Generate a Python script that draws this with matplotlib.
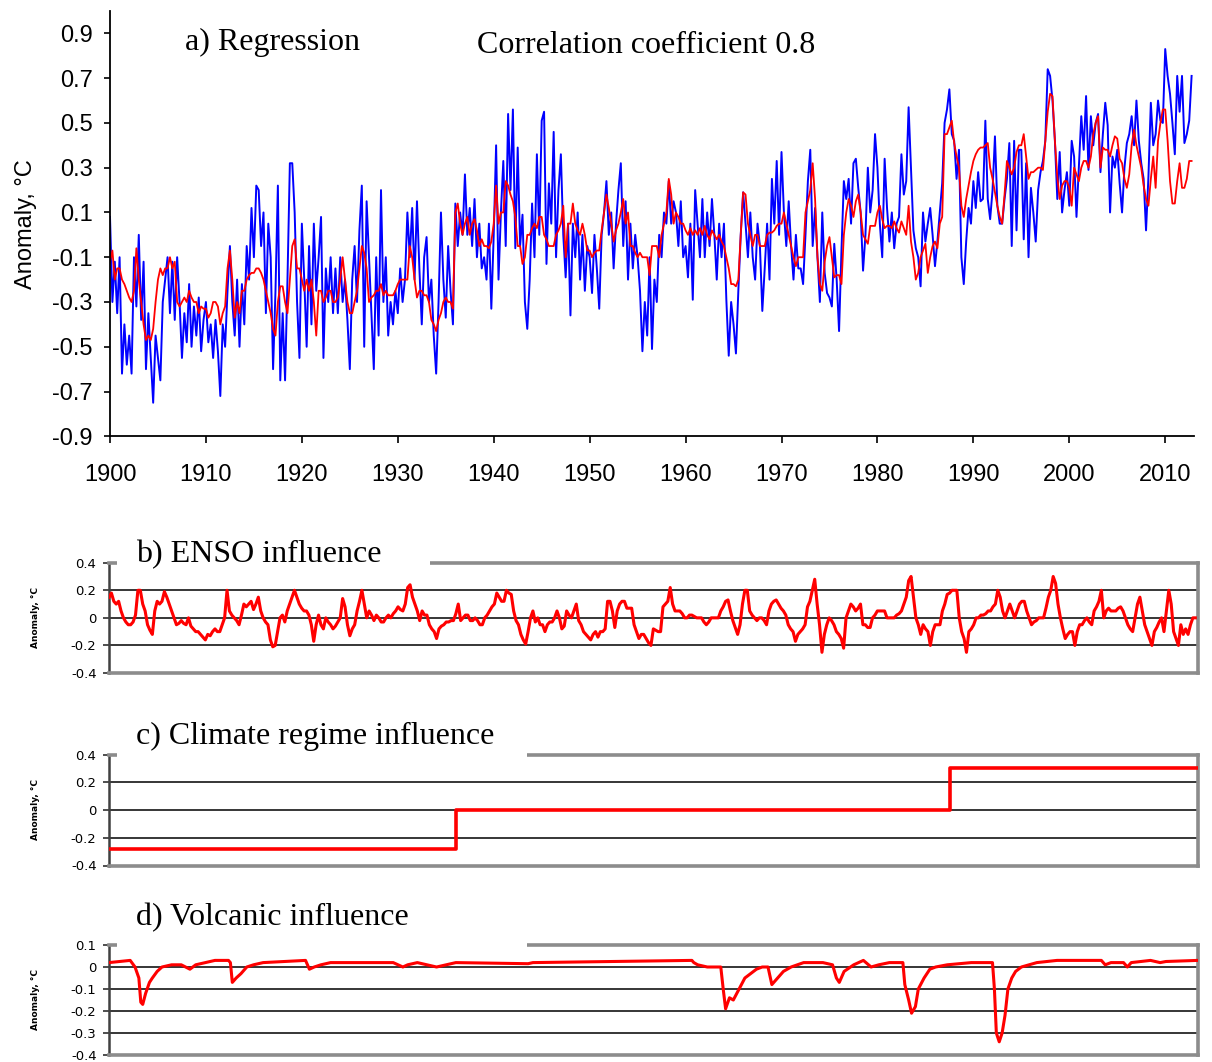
import numpy as np
import matplotlib
matplotlib.use("Agg")
import matplotlib.pyplot as plt
from matplotlib.patches import Rectangle

# quarterly values (Jan, Apr, Jul, Oct), one row per year 1900-2012
observed = [
    0.08, -0.30, -0.12, -0.35,
    -0.10, -0.62, -0.40, -0.58,
    -0.45, -0.62, -0.10, -0.32,
    0.00, -0.38, -0.12, -0.60,
    -0.35, -0.55, -0.75, -0.45,
    -0.55, -0.65, -0.30, -0.20,
    -0.10, -0.35, -0.12, -0.38,
    -0.10, -0.30, -0.55, -0.35,
    -0.48, -0.22, -0.50, -0.32,
    -0.45, -0.28, -0.52, -0.38,
    -0.30, -0.48, -0.40, -0.55,
    -0.38, -0.52, -0.72, -0.40,
    -0.50, -0.25, -0.05, -0.30,
    -0.45, -0.20, -0.50, -0.22,
    -0.40, -0.05, -0.20, 0.12,
    -0.10, 0.22, 0.20, -0.05,
    0.10, -0.35, 0.05, -0.10,
    -0.60, -0.25, 0.22, -0.65,
    -0.35, -0.65, -0.20, 0.32,
    0.32, 0.10, -0.30, -0.55,
    0.05, -0.20, -0.50, -0.05,
    -0.40, 0.05, -0.25, -0.10,
    0.08, -0.55, -0.15, -0.30,
    -0.10, -0.35, -0.15, -0.35,
    -0.10, -0.30, -0.20, -0.38,
    -0.60, -0.20, -0.05, -0.30,
    0.02, 0.22, -0.50, 0.15,
    -0.10, -0.35, -0.60, -0.10,
    -0.45, 0.20, -0.30, -0.10,
    -0.45, -0.30, -0.40, -0.25,
    -0.35, -0.15, -0.30, -0.20,
    0.10, -0.10, 0.12, -0.20,
    0.15, -0.15, -0.40, -0.10,
    -0.01, -0.30, -0.20, -0.45,
    -0.62, -0.30, 0.10, -0.20,
    -0.37, -0.05, -0.25, -0.40,
    0.14, -0.05, 0.10, 0.00,
    0.27, 0.00, 0.12, -0.05,
    0.16, -0.10, 0.05, -0.15,
    -0.10, -0.20, 0.05, -0.33,
    0.00, 0.40, -0.20, 0.10,
    0.33, -0.05, 0.54, 0.20,
    0.56, -0.06, 0.39, -0.05,
    0.09, -0.30, -0.42, -0.20,
    0.14, -0.10, 0.36, 0.00,
    0.51, 0.55, -0.13, 0.23,
    0.05, 0.46, -0.10, 0.20,
    0.36, 0.00, -0.19, 0.05,
    -0.36, 0.05, -0.10, 0.10,
    -0.20, 0.00, -0.25, -0.05,
    -0.10, -0.26, 0.00, -0.15,
    -0.33, 0.00, 0.10, 0.24,
    0.00, 0.10, -0.15, 0.05,
    0.20, 0.32, -0.05, 0.15,
    -0.20, 0.05, -0.15, 0.00,
    -0.10, -0.25, -0.52, -0.30,
    -0.45, -0.10, -0.51, -0.20,
    -0.30, 0.00, -0.10, 0.10,
    0.05, 0.24, 0.05, 0.15,
    0.10, -0.05, 0.15, -0.10,
    -0.05, -0.19, 0.05, -0.29,
    0.20, 0.05, -0.10, 0.16,
    -0.10, 0.10, -0.05, 0.16,
    0.00, -0.20, 0.05, -0.10,
    0.05, -0.29, -0.54, -0.30,
    -0.40, -0.53, -0.25, 0.00,
    0.19, 0.05, -0.10, 0.10,
    -0.10, -0.20, 0.05, -0.05,
    -0.34, -0.15, 0.05, -0.20,
    0.25, 0.05, 0.33, 0.00,
    0.37, 0.10, -0.05, 0.15,
    -0.05, -0.20, 0.00, -0.15,
    -0.15, -0.22, 0.00, 0.24,
    0.38, -0.05, 0.12, -0.10,
    -0.30, 0.10, -0.17, -0.26,
    -0.28, -0.32, -0.04, -0.20,
    -0.43, -0.07, 0.24, 0.16,
    0.25, 0.05, 0.32, 0.34,
    0.21, 0.10, -0.16, 0.00,
    0.30, 0.10, 0.20, 0.45,
    0.30, 0.05, -0.10, 0.34,
    0.12, -0.03, 0.10, -0.06,
    0.05, 0.08, 0.36, 0.18,
    0.24, 0.57, 0.30, 0.02,
    -0.06, -0.10, -0.23, 0.10,
    -0.03, 0.05, 0.12, 0.00,
    -0.14, -0.03, 0.10, 0.23,
    0.50, 0.56, 0.65, 0.45,
    0.42, 0.25, 0.38, -0.10,
    -0.22, -0.03, 0.12, 0.05,
    0.24, 0.12, 0.28, 0.15,
    0.16, 0.51, 0.16, 0.07,
    0.20, 0.44, 0.13, 0.05,
    0.05, 0.16, 0.25, 0.41,
    -0.05, 0.42, 0.02, 0.38,
    0.38, -0.02, 0.32, -0.10,
    0.21, 0.10, -0.03, 0.20,
    0.28, 0.33, 0.42, 0.74,
    0.71, 0.60, 0.42, 0.16,
    0.37, 0.10, 0.20, 0.28,
    0.13, 0.42, 0.35, 0.08,
    0.30, 0.53, 0.38, 0.62,
    0.29, 0.53, 0.40, 0.50,
    0.54, 0.28, 0.45, 0.59,
    0.49, 0.10, 0.35, 0.30,
    0.38, 0.23, 0.10, 0.30,
    0.41, 0.45, 0.53, 0.40,
    0.60, 0.42, 0.32, 0.25,
    0.02, 0.26, 0.59, 0.40,
    0.45, 0.60, 0.51, 0.50,
    0.83, 0.71, 0.63, 0.50,
    0.36, 0.71, 0.55, 0.71,
    0.41, 0.45, 0.51, 0.71,
]

regression = [
    -0.12, -0.07, -0.20, -0.15,
    -0.15, -0.20, -0.22, -0.25,
    -0.28, -0.30, -0.25, -0.06,
    -0.20, -0.30, -0.40, -0.47,
    -0.45, -0.47, -0.42, -0.30,
    -0.20, -0.15, -0.18, -0.15,
    -0.15, -0.10, -0.15, -0.12,
    -0.30, -0.32, -0.30, -0.28,
    -0.30, -0.25, -0.28, -0.30,
    -0.30, -0.35, -0.32, -0.33,
    -0.33, -0.37, -0.35, -0.30,
    -0.30, -0.32, -0.40, -0.35,
    -0.32, -0.15, -0.07, -0.20,
    -0.37, -0.30, -0.35, -0.25,
    -0.25, -0.20, -0.18, -0.17,
    -0.17, -0.15, -0.15, -0.17,
    -0.20, -0.25, -0.30, -0.35,
    -0.42, -0.45, -0.30, -0.23,
    -0.23, -0.30, -0.35, -0.20,
    -0.05, -0.02, -0.15, -0.15,
    -0.20, -0.25, -0.20, -0.25,
    -0.20, -0.30, -0.45, -0.25,
    -0.25, -0.30, -0.28, -0.25,
    -0.25, -0.30, -0.30, -0.28,
    -0.20, -0.10, -0.20, -0.30,
    -0.35, -0.35, -0.30, -0.25,
    -0.15, -0.05, -0.08, -0.15,
    -0.30, -0.28, -0.27, -0.25,
    -0.25, -0.22, -0.27, -0.25,
    -0.27, -0.27, -0.27, -0.25,
    -0.22, -0.20, -0.20, -0.20,
    -0.20, -0.05, -0.10, -0.20,
    -0.28, -0.25, -0.25, -0.27,
    -0.27, -0.30, -0.38, -0.40,
    -0.43, -0.38, -0.35, -0.30,
    -0.28, -0.30, -0.30, -0.33,
    0.10, 0.14, 0.05, 0.00,
    0.05, 0.08, 0.00, 0.05,
    0.07, 0.02, -0.05, -0.02,
    -0.05, -0.05, -0.06, -0.03,
    0.05, 0.22, 0.05, 0.10,
    0.10, 0.24, 0.22, 0.18,
    0.15, 0.08, -0.05, -0.05,
    -0.13, -0.10, 0.00, 0.00,
    0.03, 0.05, 0.03, 0.08,
    0.08, 0.00, -0.02, -0.05,
    -0.05, -0.05, 0.00, 0.02,
    0.05, 0.13, -0.10, 0.05,
    0.05, 0.14, 0.05, 0.02,
    0.00, 0.05, 0.00, -0.07,
    -0.07, -0.10, -0.08, -0.07,
    -0.07, 0.02, 0.10, 0.18,
    0.12, 0.05, -0.03, 0.02,
    0.05, 0.10, 0.16, 0.05,
    0.10, -0.05, -0.05, -0.08,
    -0.10, -0.08, -0.10, -0.10,
    -0.10, -0.18, -0.05, -0.05,
    -0.05, -0.10, 0.00, 0.05,
    0.10, 0.25, 0.18, 0.05,
    0.10, 0.08, 0.05, 0.05,
    0.02, 0.00, 0.03, 0.00,
    0.02, 0.00, 0.03, 0.00,
    0.04, 0.00, -0.02, 0.02,
    0.00, -0.02, 0.00, -0.03,
    -0.05, -0.10, -0.15, -0.22,
    -0.22, -0.23, -0.20, 0.00,
    0.19, 0.18, 0.05, 0.00,
    -0.05, 0.00, 0.00, -0.05,
    -0.05, -0.05, 0.00, 0.01,
    0.01, 0.02, 0.04, 0.05,
    0.05, 0.10, 0.05, 0.00,
    -0.05, -0.10, -0.14, -0.10,
    -0.10, -0.10, 0.10, 0.15,
    0.20, 0.32, 0.16, -0.10,
    -0.22, -0.25, -0.12, -0.05,
    -0.01, -0.10, -0.19, -0.18,
    -0.18, -0.22, 0.00, 0.10,
    0.16, 0.13, 0.08, 0.15,
    0.18, 0.10, 0.00, -0.02,
    -0.04, 0.04, 0.04, 0.04,
    0.10, 0.13, 0.07, 0.03,
    0.04, 0.04, 0.03, 0.06,
    0.03, 0.01, 0.06, 0.03,
    0.00, 0.13, -0.03, -0.10,
    -0.20, -0.17, -0.10, -0.07,
    -0.04, -0.17, -0.10, -0.05,
    -0.03, -0.06, 0.05, 0.08,
    0.45, 0.45, 0.48, 0.51,
    0.41, 0.35, 0.30, 0.13,
    0.08, 0.16, 0.22, 0.28,
    0.33, 0.36, 0.38, 0.39,
    0.39, 0.40, 0.41, 0.30,
    0.25, 0.19, 0.13, 0.08,
    0.05, 0.18, 0.33, 0.30,
    0.27, 0.30, 0.37, 0.40,
    0.40, 0.45, 0.35, 0.25,
    0.28, 0.28, 0.29, 0.30,
    0.30, 0.29, 0.42, 0.55,
    0.63, 0.62, 0.42, 0.26,
    0.16, 0.22, 0.24, 0.24,
    0.21, 0.13, 0.30, 0.27,
    0.24, 0.30, 0.33, 0.33,
    0.30, 0.35, 0.45, 0.50,
    0.53, 0.30, 0.39, 0.38,
    0.38, 0.35, 0.40, 0.44,
    0.43, 0.34, 0.32, 0.25,
    0.21, 0.27, 0.40, 0.47,
    0.40, 0.35, 0.30, 0.22,
    0.16, 0.13, 0.25, 0.35,
    0.21, 0.42, 0.50, 0.56,
    0.56, 0.42, 0.24, 0.14,
    0.14, 0.24, 0.32, 0.21,
    0.21, 0.25, 0.33, 0.33,
]

enso = [
    0.15, 0.18, 0.12, 0.10,
    0.12, 0.05, 0.00, -0.03,
    -0.05, -0.05, -0.03, 0.02,
    0.20, 0.20, 0.10, 0.05,
    -0.05, -0.09, -0.12, 0.05,
    0.12, 0.10, 0.12, 0.19,
    0.15, 0.10, 0.05, 0.00,
    -0.05, -0.04, -0.02, -0.04,
    -0.05, 0.00, -0.06, -0.08,
    -0.10, -0.10, -0.12, -0.14,
    -0.16, -0.12, -0.13, -0.10,
    -0.08, -0.10, -0.10, -0.05,
    0.00, 0.20, 0.05, 0.02,
    0.00, -0.02, -0.05, 0.02,
    0.10, 0.08, 0.10, 0.12,
    0.06, 0.10, 0.15, 0.05,
    0.00, -0.03, -0.05, -0.16,
    -0.21, -0.20, -0.10, 0.00,
    0.02, -0.03, 0.05, 0.10,
    0.15, 0.20, 0.15, 0.10,
    0.07, 0.05, 0.05, 0.02,
    -0.05, -0.17, -0.05, 0.02,
    -0.05, -0.08, 0.00, -0.03,
    -0.05, -0.08, -0.06, -0.03,
    0.00, 0.14, 0.08, -0.05,
    -0.13, -0.08, -0.05, 0.05,
    0.12, 0.20, 0.10, 0.00,
    0.05, 0.02, -0.02, 0.02,
    0.00, -0.03, -0.03, 0.00,
    0.02, 0.00, 0.03, 0.05,
    0.08, 0.06, 0.05, 0.10,
    0.22, 0.24, 0.15, 0.10,
    0.05, -0.02, 0.05, 0.02,
    0.02, -0.05, -0.08, -0.10,
    -0.15, -0.08, -0.06, -0.05,
    -0.03, -0.03, -0.02, -0.02,
    0.03, 0.10, -0.02, 0.00,
    0.02, 0.02, -0.02, -0.02,
    0.00, -0.02, -0.05, -0.05,
    0.00, 0.02, 0.05, 0.08,
    0.10, 0.18, 0.15, 0.12,
    0.12, 0.20, 0.18, 0.17,
    0.05, -0.02, -0.05, -0.12,
    -0.16, -0.19, -0.10, 0.00,
    0.05, -0.03, 0.00, -0.05,
    -0.05, -0.10, -0.05, -0.03,
    -0.03, 0.00, 0.05, 0.00,
    -0.08, -0.06, 0.05, 0.02,
    0.00, 0.05, 0.10, -0.02,
    -0.05, -0.10, -0.12, -0.14,
    -0.16, -0.12, -0.10, -0.14,
    -0.10, -0.10, -0.08, 0.12,
    0.12, 0.05, -0.07, 0.05,
    0.10, 0.12, 0.12, 0.07,
    0.07, 0.07, -0.05, -0.10,
    -0.15, -0.12, -0.12, -0.15,
    -0.18, -0.20, -0.08, -0.09,
    -0.10, -0.10, 0.08, 0.10,
    0.12, 0.22, 0.10, 0.05,
    0.05, 0.05, 0.03, 0.00,
    0.00, 0.02, 0.02, 0.01,
    0.00, 0.00, 0.00, -0.03,
    -0.05, -0.03, 0.00, 0.00,
    0.00, 0.00, 0.05, 0.08,
    0.12, 0.13, 0.05, -0.02,
    -0.07, -0.12, -0.05, 0.10,
    0.20, 0.20, 0.05, 0.02,
    0.00, -0.02, 0.00, 0.00,
    -0.02, -0.05, 0.05, 0.10,
    0.12, 0.13, 0.10, 0.07,
    0.05, 0.02, -0.05, -0.08,
    -0.10, -0.17, -0.12, -0.10,
    -0.08, -0.05, 0.08, 0.12,
    0.20, 0.28, 0.10, -0.05,
    -0.25, -0.12, -0.05, 0.00,
    -0.02, -0.05, -0.10, -0.12,
    -0.15, -0.22, 0.00, 0.05,
    0.10, 0.08, 0.05, 0.07,
    0.10, -0.05, -0.05, -0.07,
    -0.07, 0.00, 0.02, 0.05,
    0.05, 0.05, 0.05, 0.00,
    0.00, 0.00, 0.00, 0.02,
    0.03, 0.05, 0.10, 0.15,
    0.27, 0.30, 0.15, 0.00,
    -0.05, -0.12, -0.05, -0.08,
    -0.10, -0.20, -0.10, -0.05,
    -0.05, -0.05, 0.05, 0.10,
    0.17, 0.18, 0.20, 0.20,
    0.20, 0.00, -0.10, -0.15,
    -0.25, -0.10, -0.08, -0.05,
    0.00, 0.00, 0.02, 0.02,
    0.03, 0.05, 0.05, 0.08,
    0.10, 0.20, 0.15, 0.05,
    0.00, 0.05, 0.10, 0.05,
    0.00, 0.05, 0.10, 0.12,
    0.12, 0.05, 0.00, -0.05,
    -0.03, -0.02, 0.00, 0.00,
    0.00, 0.07, 0.15, 0.20,
    0.30, 0.25, 0.10, 0.00,
    -0.08, -0.15, -0.12, -0.10,
    -0.10, -0.20, -0.10, -0.05,
    -0.05, -0.02, 0.00, -0.03,
    -0.05, 0.05, 0.08, 0.12,
    0.20, 0.00, 0.05, 0.07,
    0.05, 0.05, 0.05, 0.07,
    0.08, 0.05, 0.00, -0.05,
    -0.08, -0.10, 0.00, 0.10,
    0.15, 0.05, -0.05, -0.10,
    -0.15, -0.20, -0.10, -0.07,
    -0.03, 0.00, -0.10, 0.05,
    0.20, 0.10, -0.10, -0.15,
    -0.20, -0.05, -0.12, -0.08,
    -0.12, -0.05, 0.00, 0.00,
]

# climate regimes: start year and level
regime_start = [1900, 1936.0, 1987.3]
regime_level = [-0.28, 0.0, 0.30]

# volcanic influence, read at irregular dates
volc_years = [1900, 1902.2, 1902.7, 1903.1, 1903.3, 1903.5, 1903.8, 1904.2, 1904.5, 1905,
              1905.5, 1906.5, 1907.5, 1908.4, 1909, 1910, 1911, 1912.4, 1912.6, 1912.8,
              1913.2, 1913.7, 1914.3, 1915, 1916, 1920.4, 1920.8, 1921.3, 1922, 1923,
              1929.5, 1930.5, 1931, 1932, 1933, 1934, 1935, 1936, 1943.5, 1944,
              1960.5, 1960.7, 1961.1, 1962.1, 1963.5, 1963.75, 1964.0, 1964.4, 1964.8, 1965.4,
              1966.0, 1966.6, 1967.2, 1967.8, 1968.4, 1968.8, 1969.4, 1970.0, 1970.8, 1972.1,
              1974.1, 1975.1, 1975.5, 1975.8, 1976.3, 1977.3, 1978.3, 1979.1, 1979.9, 1981.0,
              1982.4, 1982.6, 1983.0, 1983.3, 1983.7, 1984.0, 1984.6, 1985.2, 1985.8, 1987.0,
              1989.5, 1991.7, 1991.9, 1992.1, 1992.4, 1992.7, 1993.0, 1993.3, 1993.7, 1994.1,
              1994.7, 1995.5, 1996.3, 1998.4, 2003.0, 2003.4, 2004.0, 2005.3, 2005.7, 2006.1,
              2008.1, 2009.1, 2009.7, 2013.0]
volc_vals = [0.02, 0.03, 0.00, -0.05, -0.16, -0.17, -0.12, -0.07, -0.05, -0.02,
             0.00, 0.01, 0.01, -0.01, 0.01, 0.02, 0.03, 0.03, 0.02, -0.07,
             -0.05, -0.03, 0.00, 0.01, 0.02, 0.03, -0.01, 0.00, 0.01, 0.02,
             0.02, 0.00, 0.01, 0.02, 0.01, 0.00, 0.01, 0.02, 0.015, 0.02,
             0.03, 0.02, 0.01, 0.00, 0.00, -0.10, -0.19, -0.14, -0.15, -0.10,
             -0.05, -0.03, -0.01, 0.00, 0.00, -0.08, -0.05, -0.02, 0.00, 0.02,
             0.02, 0.01, -0.05, -0.07, -0.02, 0.01, 0.03, 0.00, 0.01, 0.02,
             0.02, -0.08, -0.15, -0.21, -0.18, -0.10, -0.05, -0.01, 0.00, 0.01,
             0.02, 0.02, -0.10, -0.30, -0.34, -0.30, -0.22, -0.10, -0.05, -0.02,
             0.00, 0.01, 0.02, 0.03, 0.03, 0.01, 0.02, 0.02, 0.00, 0.02,
             0.03, 0.02, 0.025, 0.03]

years = 1900 + 0.25 * np.arange(len(observed))

W, H = 1212, 1062
fig = plt.figure(figsize=(W / 100, H / 100), dpi=100)
sans = "Liberation Sans"
serif = "Liberation Serif"

def fx(px):
    return px / W

def fy(py):
    return 1 - py / H

# ---- a) regression
ax = fig.add_axes([fx(110), fy(436.3), fx(1194) - fx(110), fy(11) - fy(436.3)])
ax.plot(years, observed, color="#0000ff", lw=1.4)
ax.plot(years, regression, color="#ff0000", lw=1.3)
ax.set_xlim(1900, 2013)
ax.set_ylim(-0.9, 1.0)
ax.set_yticks(np.arange(-0.9, 0.91, 0.2))
ax.set_yticklabels([f"{v:.1f}" for v in np.arange(-0.9, 0.91, 0.2)])
ax.set_xticks(range(1900, 2011, 10))
for s in ["top", "right"]:
    ax.spines[s].set_visible(False)
for s in ["left", "bottom"]:
    ax.spines[s].set_linewidth(1.3)
ax.tick_params(axis="y", direction="out", length=4.5, width=1.2, pad=8, labelsize=17)
ax.tick_params(axis="x", direction="out", length=5, width=1.2, pad=15, labelsize=17)
for lab in ax.get_xticklabels() + ax.get_yticklabels():
    lab.set_fontfamily(sans)
ax.set_ylabel("Anomaly, °C", fontsize=17, fontfamily=sans, labelpad=11)

fig.text(fx(185), fy(50), "a) Regression", fontsize=23, fontfamily=serif, va="baseline")
fig.text(fx(477), fy(53), "Correlation coefficient 0.8", fontsize=23,
         fontfamily=serif, va="baseline")


def small_panel(top, bottom, ylim, ticks, grid, title, title_base, gap_end):
    a = fig.add_axes([fx(109), fy(bottom), fx(1197.7) - fx(109), fy(top) - fy(bottom)])
    a.set_xlim(1900, 2013)
    a.set_ylim(*ylim)
    a.set_xticks([])
    a.set_yticks(ticks)
    a.set_yticklabels([f"{v:g}" for v in ticks])
    for v in grid:
        a.axhline(v, color="black", lw=1.1, zorder=1)
    for s in ["top", "right", "bottom"]:
        a.spines[s].set_color("#8c8c8c")
        a.spines[s].set_linewidth(2.6)
    a.spines["left"].set_color("#404040")
    a.spines["left"].set_linewidth(1.8)
    a.tick_params(axis="y", direction="out", length=4, width=1.3, color="#404040",
                  pad=5, labelsize=9.5)
    for lab in a.get_yticklabels():
        lab.set_fontfamily("DejaVu Sans")
    fig.text(fx(35), (fy(top) + fy(bottom)) / 2, "Anomaly, °C", rotation=90,
             fontsize=6.5, fontweight="bold", fontfamily="DejaVu Sans",
             ha="center", va="center")
    fig.patches.append(Rectangle((fx(117), fy(top + 5)), fx(gap_end) - fx(117),
                                 fy(top - 6) - fy(top + 5), transform=fig.transFigure,
                                 facecolor="white", edgecolor="none", zorder=5))
    fig.text(fx(136), fy(title_base), title, fontsize=23, fontfamily=serif,
             va="baseline", zorder=6)
    return a

# ---- b) ENSO
axb = small_panel(562.7, 673, (-0.4, 0.4), [0.4, 0.2, 0, -0.2, -0.4], [0.2, 0, -0.2],
                  "b) ENSO influence", 562, 430)
axb.plot(years, enso, color="#ff0000", lw=2.2, zorder=3)

# ---- c) climate regime
axc = small_panel(754.5, 865.5, (-0.4, 0.4), [0.4, 0.2, 0, -0.2, -0.4], [0.2, 0, -0.2],
                  "c) Climate regime influence", 744, 527)
axc.step(regime_start + [2013], regime_level + [regime_level[-1]], where="post",
         color="#ff0000", lw=2.6, zorder=3)

# ---- d) volcanic
axd = small_panel(945, 1055, (-0.4, 0.1), [0.1, 0, -0.1, -0.2, -0.3, -0.4],
                  [0, -0.1, -0.2, -0.3], "d) Volcanic influence", 925, 527)
axd.plot(volc_years, volc_vals, color="#ff0000", lw=2.2, zorder=3)

fig.savefig("out.png", dpi=100)
